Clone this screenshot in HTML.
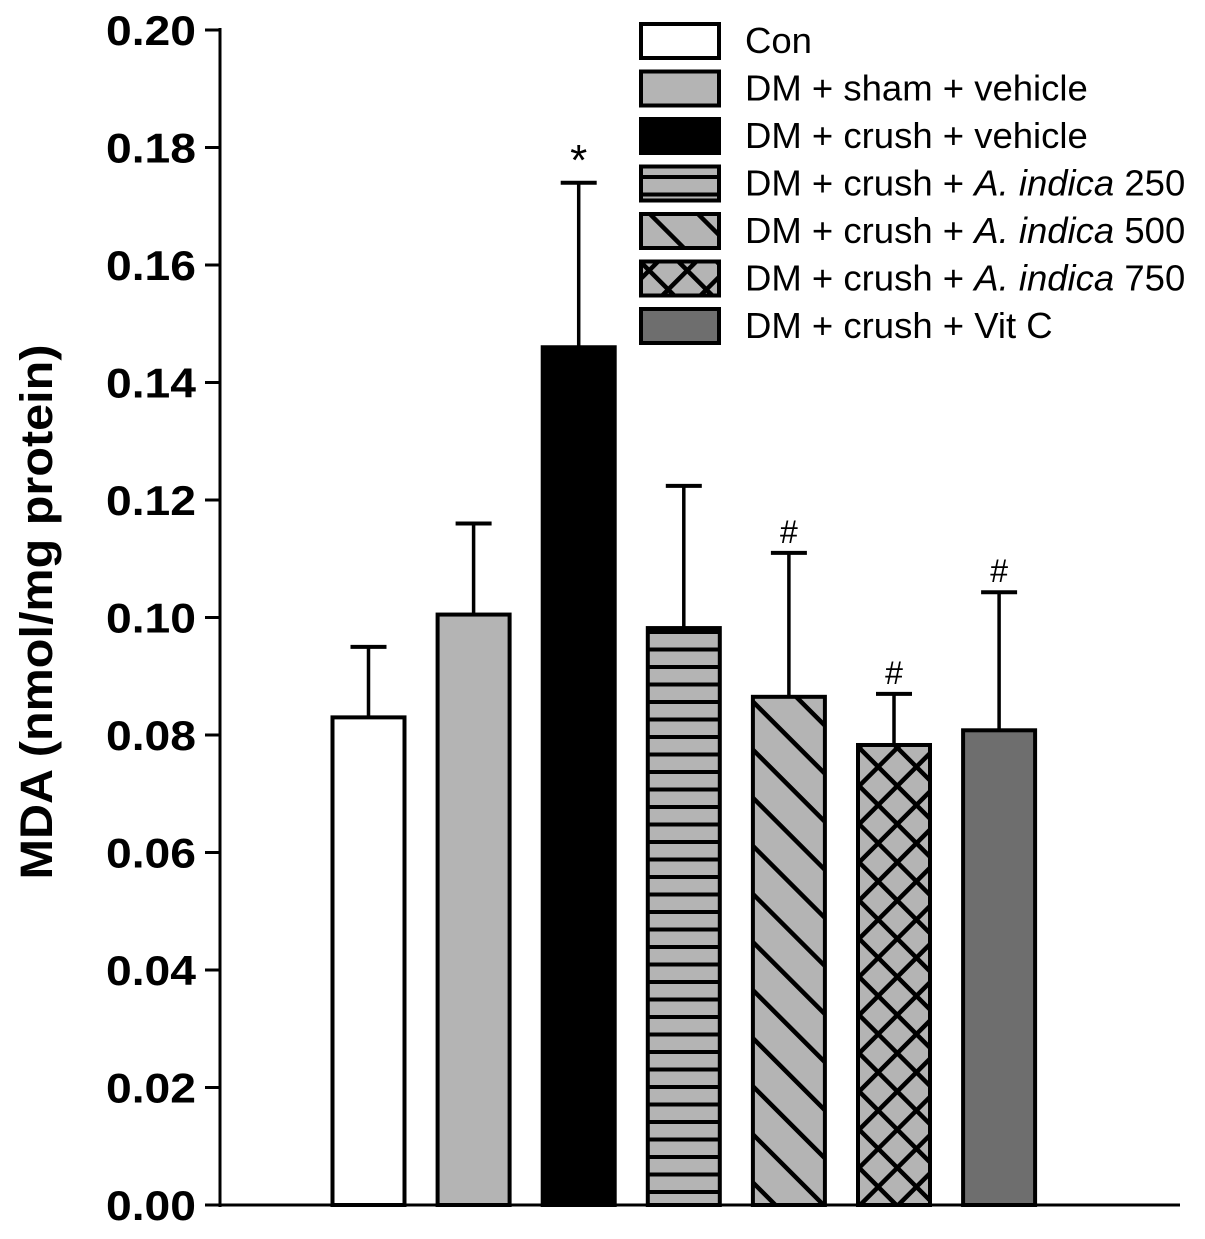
<!DOCTYPE html>
<html><head><meta charset="utf-8"><style>
html,body{margin:0;padding:0;background:#fff;}
svg text{font-family:"Liberation Sans",Arial,sans-serif;}
</style></head><body>
<svg id="chart" width="1205" height="1234" xmlns="http://www.w3.org/2000/svg">
<defs>
<pattern id="pH" patternUnits="userSpaceOnUse" width="20" height="17.5"><rect width="20" height="17.5" fill="#b4b4b4"/><rect y="0" width="20" height="4" fill="#000"/></pattern>
<pattern id="pD" patternUnits="userSpaceOnUse" width="34" height="34" patternTransform="rotate(-45)"><rect width="34" height="34" fill="#b4b4b4"/><rect x="0" width="4.5" height="34" fill="#000"/></pattern>
<pattern id="pX" patternUnits="userSpaceOnUse" width="27" height="27" patternTransform="rotate(45)"><rect width="27" height="27" fill="#b4b4b4"/><rect width="4.5" height="27" fill="#000"/><rect width="27" height="4.5" fill="#000"/></pattern>
</defs>
<g id="axes"></g><g id="bars"></g><g id="legend"></g>
<text transform="translate(52,612) rotate(-90)" text-anchor="middle" font-size="45" font-weight="bold" textLength="535" lengthAdjust="spacingAndGlyphs">MDA (nmol/mg protein)</text>
</svg>
<script>
const categories=["Con","DM + sham + vehicle","DM + crush + vehicle","DM + crush + A. indica 250","DM + crush + A. indica 500","DM + crush + A. indica 750","DM + crush + Vit C"];
const means=[0.083,0.1005,0.146,0.0982,0.0865,0.0783,0.0808];
const errors=[0.012,0.0155,0.028,0.0242,0.0245,0.0087,0.0235];
const marks=["","","*","","#","#","#"];
const yTicks=["0.00","0.02","0.04","0.06","0.08","0.10","0.12","0.14","0.16","0.18","0.20"];
const fills=["#ffffff","#b4b4b4","#000000","url(#pH)","url(#pD)","url(#pX)","#6e6e6e"];
const NS="http://www.w3.org/2000/svg";
const y=v=>1205-v/0.2*1175;
const xc=i=>368.5+105.1*i;
function mk(t,a,p){const e=document.createElementNS(NS,t);for(const k in a)e.setAttribute(k,a[k]);p.appendChild(e);return e;}
const ax=document.getElementById('axes'),bg=document.getElementById('bars'),lg=document.getElementById('legend');
let l=mk('line',{x1:220,y1:28,x2:220,y2:1207,stroke:'#000','stroke-width':3},ax);

l=mk('line',{x1:218,y1:1205,x2:1180,y2:1205,stroke:'#000','stroke-width':3},ax);

yTicks.forEach((t,i)=>{const v=parseFloat(t);
 mk('line',{x1:205,y1:y(v),x2:220,y2:y(v),stroke:'#000','stroke-width':3},ax);
 const tx=mk('text',{x:196,y:y(v)+15,'text-anchor':'end','font-size':42,'font-weight':'bold',textLength:90,lengthAdjust:'spacingAndGlyphs'},ax);tx.textContent=t;
 });
means.forEach((m,i)=>{const c=xc(i);
 const el=mk('line',{x1:c,y1:y(m),x2:c,y2:y(m+errors[i]),stroke:'#000','stroke-width':3.5},bg);
 
 mk('line',{x1:c-18,y1:y(m+errors[i]),x2:c+18,y2:y(m+errors[i]),stroke:'#000','stroke-width':4},bg);
 const r=mk('rect',{x:c-36,y:y(m),width:72,height:1205-y(m),fill:fills[i],stroke:'#000','stroke-width':4},bg);
 
 if(marks[i]){const t=mk('text',{x:c,y:y(m+errors[i])-(marks[i]=='*'?8:10),'text-anchor':'middle','font-size':marks[i]=='*'?44:32},bg);t.textContent=marks[i];
 }
});
categories.forEach((c,i)=>{const ty=24+i*47.5;
 const g=mk('g',{},lg);
 mk('rect',{x:641,y:ty,width:78,height:34,fill:fills[i],stroke:'#000','stroke-width':4},g);
 const t=mk('text',{x:745,y:ty+29,'font-size':36.5},g);
 const m=c.match(/^(.*)A\. indica(.*)$/);
 if(m){t.appendChild(document.createTextNode(m[1]));const s=mk('tspan',{'font-style':'italic'},t);s.textContent='A. indica';t.appendChild(document.createTextNode(m[2]));}
 else t.textContent=c;});
</script>
</body></html>
